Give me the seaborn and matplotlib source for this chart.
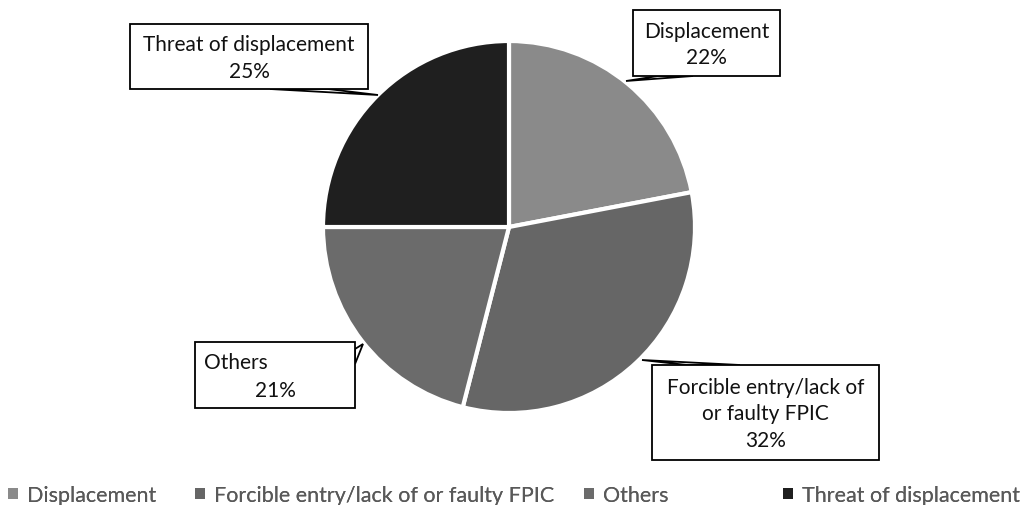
import textwrap
import matplotlib
matplotlib.use("Agg")
import matplotlib.pyplot as plt
from matplotlib.patches import Polygon, Rectangle, Patch
import seaborn as sns

# ---- data ----
categories = ["Displacement", "Forcible entry/lack of or faulty FPIC", "Others", "Threat of displacement"]
shares = [22, 32, 21, 25]
colors = ["#8a8a8a", "#666666", "#6b6b6b", "#1f1f1f"]

sns.set_theme(style="white")
plt.rcParams['font.family'] = ['Lato', 'DejaVu Sans']

W, H = 1029, 506
fig = plt.figure(figsize=(W / 100, H / 100), dpi=100)
ax = fig.add_axes([0, 0, 1, 1])

CX, CY, R = 509, 228, 186


def d(px, py):
    return ((px - CX) / R, (CY - py) / R)


ax.pie(shares, colors=colors, startangle=90, counterclock=False, radius=1,
       wedgeprops=dict(edgecolor="white", linewidth=3))
ax.set_xlim(-CX / R, (W - CX) / R)
ax.set_ylim(-(H - CY) / R, CY / R)
ax.set_aspect("equal")
ax.axis("off")

# callouts: box (x0, y0, x1, y1) in px, pointer base pts and tip
callouts = [
    dict(box=(633, 11, 780, 77), base=[(658, 77), (693, 77)], tip=(626, 82)),
    dict(box=(652, 366, 879, 461), base=[(687, 366), (740, 366)], tip=(642, 361)),
    dict(box=(195, 343, 355, 409), base=[(355, 350), (355, 365)], tip=(363, 345)),
    dict(box=(130, 25, 368, 90), base=[(270, 90), (328, 90)], tip=(378, 96)),
]

FS = 15
for i, (cat, val, co) in enumerate(zip(categories, shares, callouts)):
    x0, y0, x1, y1 = co["box"]
    poly = Polygon([d(*co["base"][0]), d(*co["tip"]), d(*co["base"][1])], closed=True,
                   facecolor="white", edgecolor="black", linewidth=1.3, zorder=5)
    ax.add_patch(poly)
    bx0, by1 = d(x0, y0)
    bx1, by0 = d(x1, y1)
    ax.add_patch(Rectangle((bx0, by0), bx1 - bx0, by1 - by0, facecolor="white",
                           edgecolor="black", linewidth=1.3, zorder=6))
    label = textwrap.fill(cat, 22)
    if cat == "Others":
        tx, ty = d(204, 363)
        ax.text(tx, ty, label, ha="left", va="center", fontsize=FS, color="#111111", zorder=7)
        tx, ty = d((x0 + x1) / 2, 391)
        ax.text(tx, ty, f"{val}%", ha="center", va="center", fontsize=FS, color="#111111", zorder=7)
    else:
        tx, ty = d((x0 + x1) / 2, (y0 + y1) / 2 + 1)
        ax.text(tx, ty, f"{label}\n{val}%", ha="center", va="center", fontsize=FS,
                color="#111111", linespacing=1.38, zorder=7)

# legend, one entry each at its own position
leg_x = [8, 195, 584, 783]
for cat, col, lx in zip(categories, colors, leg_x):
    lg = fig.legend(handles=[Patch(facecolor=col, edgecolor="none", label=cat)],
                    loc="center left", bbox_to_anchor=(lx / W, 1 - 496 / H),
                    frameon=False, fontsize=15.5, handlelength=0.45, handleheight=0.45,
                    handletextpad=0.45, borderpad=0, borderaxespad=0)
    for t in lg.get_texts():
        t.set_color("#595959")
    fig.add_artist(lg)

fig.savefig("out.png", dpi=100)
